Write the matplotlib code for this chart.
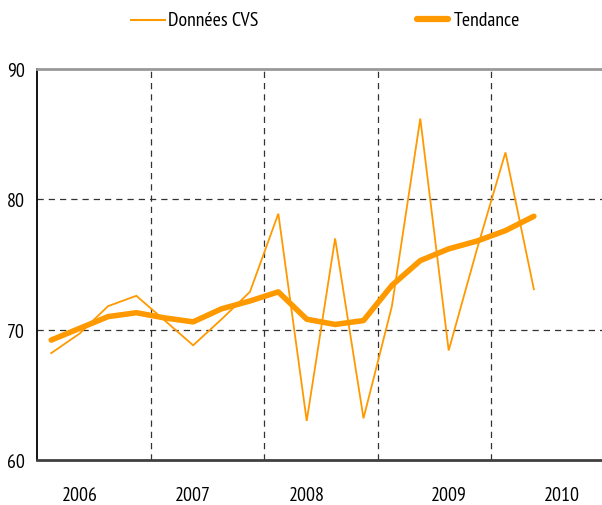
import matplotlib
matplotlib.use("Agg")
import matplotlib.pyplot as plt
from matplotlib.lines import Line2D

plt.rcParams['font.family'] = ['PT Sans Narrow', 'DejaVu Sans']

donnees_cvs = [68.2, 69.7, 71.8, 72.6, 70.7, 68.8, 70.8, 72.9, 78.9, 63.0,
               77.0, 63.2, 71.8, 86.2, 68.4, 76.2, 83.6, 73.1]
tendance = [69.2, 70.1, 71.0, 71.3, 70.9, 70.6, 71.6, 72.2, 72.9, 70.8,
            70.4, 70.7, 73.4, 75.3, 76.2, 76.8, 77.6, 78.7]
year_labels = ["2006", "2007", "2008", "2009", "2010"]
year_label_pos = [1.0, 5.0, 9.0, 14.0, 18.0]
year_sep = [3.5, 7.5, 11.5, 15.5]
y_ticks = [60, 70, 80, 90]
legend_labels = ["Données CVS", "Tendance"]

W, H = 602, 506
orange = "#FF9900"
fs = 14.3
fig = plt.figure(figsize=(W/100, H/100), dpi=100)
ax = fig.add_axes([37/W, 1-461/H, 1-37/W, 391/H])

x = list(range(len(donnees_cvs)))
ax.plot(x, donnees_cvs, color=orange, lw=1.3, solid_joinstyle='miter')
ax.plot(x, tendance, color=orange, lw=4.0, solid_capstyle='round', solid_joinstyle='round')

ax.set_xlim(-0.5, 19.4)
ax.set_ylim(60, 90)
ax.set_yticks(y_ticks)
ax.set_yticklabels([str(v) for v in y_ticks], fontsize=fs)
ax.tick_params(axis='y', length=0, pad=8.5)
ax.set_xticks([])

for v in [70, 80]:
    ax.axhline(v, color='#333333', lw=0.9, ls=(0, (5, 4)), zorder=0)
for s in year_sep:
    ax.axvline(s, color='#333333', lw=0.9, ls=(0, (5, 4)), zorder=0)

for p, lab in zip(year_label_pos, year_labels):
    ax.text(p, -(496-461)/391, lab, transform=ax.get_xaxis_transform(), ha='center', va='center', fontsize=fs)

ax.spines['right'].set_visible(False)
ax.spines['left'].set_color('black')
ax.spines['left'].set_linewidth(1.3)
ax.spines['bottom'].set_color('#404040')
ax.spines['bottom'].set_linewidth(2.0)
ax.spines['top'].set_color('#999999')
ax.spines['top'].set_linewidth(2.0)

# legend (manual placement)
ly = 1 - 21/H
fig.add_artist(Line2D([131/W, 165/W], [ly, ly], color=orange, lw=1.5, transform=fig.transFigure))
fig.text(168/W, ly, legend_labels[0], va='center', ha='left', fontsize=fs)
fig.add_artist(Line2D([417/W, 448/W], [ly+0.002, ly+0.002], color=orange, lw=4.5, solid_capstyle='round', transform=fig.transFigure))
fig.text(454/W, ly, legend_labels[1], va='center', ha='left', fontsize=fs)

fig.savefig("out.png", dpi=100)
